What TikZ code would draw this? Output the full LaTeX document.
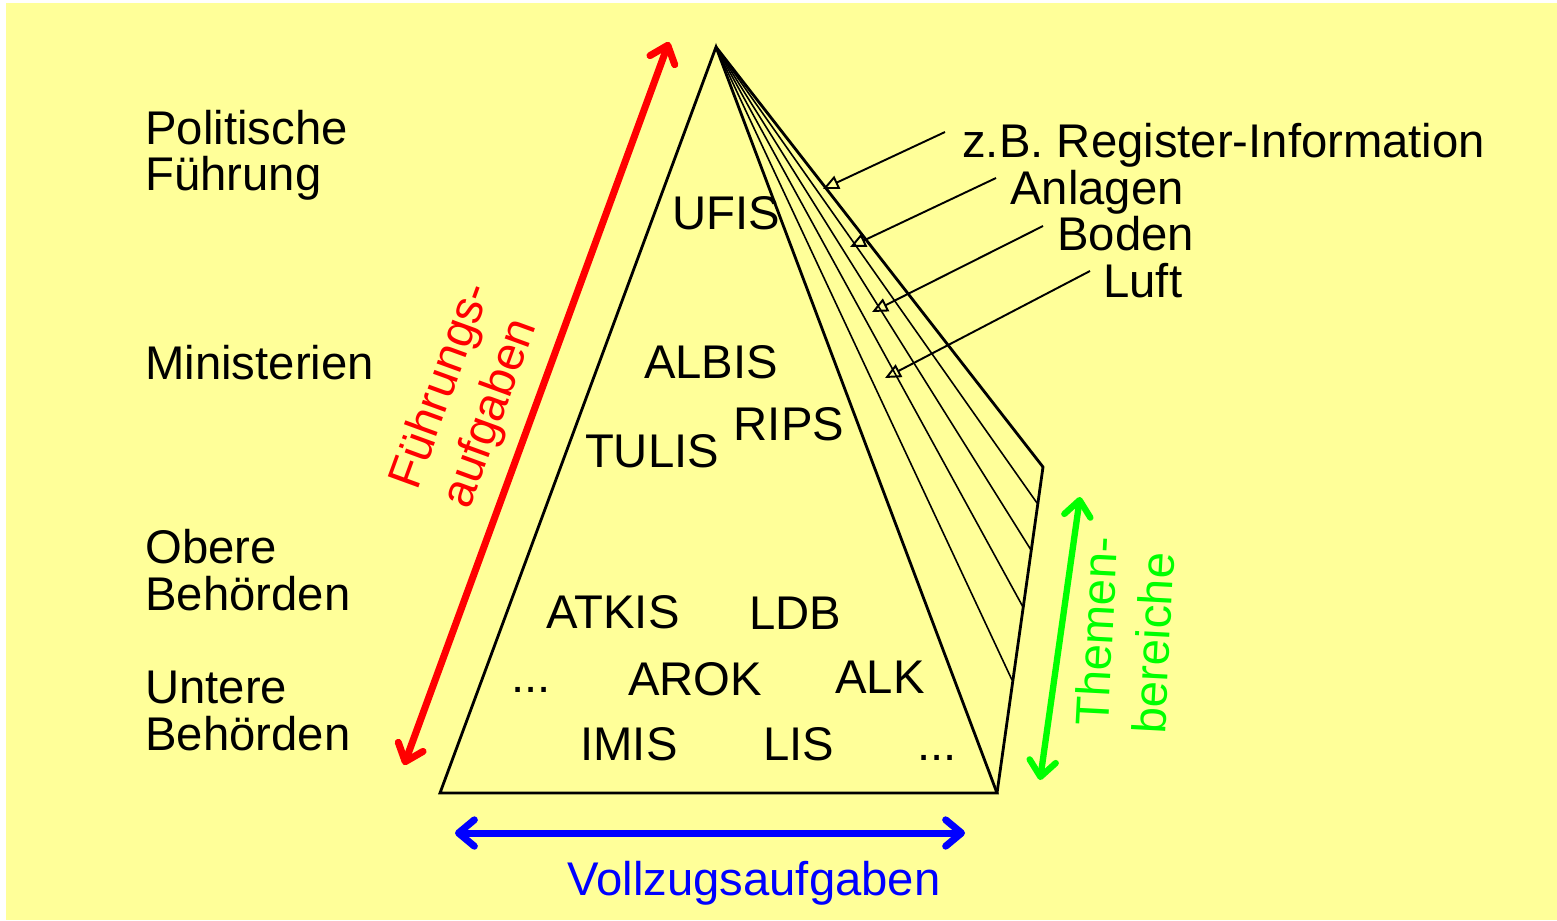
\documentclass[tikz,border=0pt]{standalone}
\usepackage{fontspec}
\setmainfont{Liberation Sans}
\usetikzlibrary{arrows.meta}
\definecolor{bgyellow}{HTML}{FFFF99}
\definecolor{fred}{HTML}{FF0000}
\definecolor{fblue}{HTML}{0000FF}
\definecolor{fgreen}{HTML}{00FF00}
\begin{document}
\begin{tikzpicture}[x=0.02cm,y=-0.02cm,
  lbl/.style={inner sep=0pt, font=\fontsize{26.9}{32}\selectfont},
  edgeline/.style={line width=1.6pt, line join=miter},
  fanline/.style={line width=0.9pt},
  pointer/.style={line width=1.1pt, -{Triangle[open,length=9pt,width=8pt]}},
  bigarrow/.style={line width=4pt, {Straight Barb[length=9pt,width=15pt,round]}-{Straight Barb[length=9pt,width=15pt,round]}},
]
\useasboundingbox (0,0) rectangle (1557,920);
\fill[bgyellow] (6,3) rectangle (1557,920);

% pyramid geometry
\coordinate (apex) at (716,47);
\coordinate (bl) at (440,793);
\coordinate (br) at (997,793);
\coordinate (back) at (1043,467);
\coordinate (f1) at (1037,503);
\coordinate (f2) at (1031,550);
\coordinate (f3) at (1023,607);
\coordinate (f4) at (1012,680);

\foreach \p in {f1,f2,f3,f4} \draw[fanline] (apex) -- (\p);
\draw[edgeline] (apex) -- (bl) -- (br) -- cycle;
\draw[edgeline] (apex) -- (back) -- (br);

% left labels
\node[lbl, anchor=base west] (pol1) at (145,144) {Politische};
\node[lbl, anchor=base west] (pol2) at (145,190) {Führung};
\node[lbl, anchor=base west] (min) at (145,379) {Ministerien};
\node[lbl, anchor=base west] (ob1) at (145,563) {Obere};
\node[lbl, anchor=base west] (ob2) at (145,610) {Behörden};
\node[lbl, anchor=base west] (un1) at (145,703) {Untere};
\node[lbl, anchor=base west] (un2) at (145,750) {Behörden};

% systems inside the pyramid
\node[lbl, anchor=base] (ufis) at (726,229) {UFIS};
\node[lbl, anchor=base] (albis) at (711,378) {ALBIS};
\node[lbl, anchor=base] (rips) at (789,440) {RIPS};
\node[lbl, anchor=base] (tulis) at (652,467) {TULIS};
\node[lbl, anchor=base] (atkis) at (613,628) {ATKIS};
\node[lbl, anchor=base] (ldb) at (795,629) {LDB};
\node[lbl, anchor=base] (dots1) at (531,692) {...};
\node[lbl, anchor=base] (arok) at (695,695) {AROK};
\node[lbl, anchor=base] (alk) at (880,693) {ALK};
\node[lbl, anchor=base] (imis) at (629,760) {IMIS};
\node[lbl, anchor=base] (lis) at (799,760) {LIS};
\node[lbl, anchor=base] (dots2) at (937,760) {...};

% theme labels with pointers
\node[lbl, anchor=base west] (reg) at (962,157) {z.B. Register-Information};
\node[lbl, anchor=base west] (anl) at (1010,204) {Anlagen};
\node[lbl, anchor=base west] (bod) at (1057,250) {Boden};
\node[lbl, anchor=base west] (luft) at (1103,297) {Luft};

\coordinate (s1) at (945,132);
\coordinate (t1) at (823,189);
\coordinate (s2) at (996,178);
\coordinate (t2) at (850,247);
\coordinate (s3) at (1043,226);
\coordinate (t3) at (872,312);
\coordinate (s4) at (1090,271);
\coordinate (t4) at (885,378);
\draw[pointer] (s1) -- (t1);
\draw[pointer] (s2) -- (t2);
\draw[pointer] (s3) -- (t3);
\draw[pointer] (s4) -- (t4);

% coloured double arrows
\coordinate (r1) at (404,765);
\coordinate (r2) at (669,42);
\draw[bigarrow, fred] (r1) -- (r2);
\coordinate (b1) at (455,833);
\coordinate (b2) at (965,833);
\draw[bigarrow, fblue] (b1) -- (b2);
\coordinate (g1) at (1040,780);
\coordinate (g2) at (1080,497);
\draw[bigarrow, fgreen, line width=3.6pt] (g1) -- (g2);

% coloured labels
\node[lbl, anchor=base west, rotate=70, text=fred] (fue1) at (417,492) {Führungs-};
\node[lbl, anchor=base west, rotate=70, text=fred] (fue2) at (469,511) {aufgaben};
\node[lbl, anchor=base, text=fblue] (voll) at (754,895) {Vollzugsaufgaben};
\node[lbl, anchor=base west, rotate=87, text=fgreen] (th1) at (1108,727) {Themen-};
\node[lbl, anchor=base west, rotate=87, text=fgreen] (th2) at (1165,735) {bereiche};
\end{tikzpicture}
\end{document}
